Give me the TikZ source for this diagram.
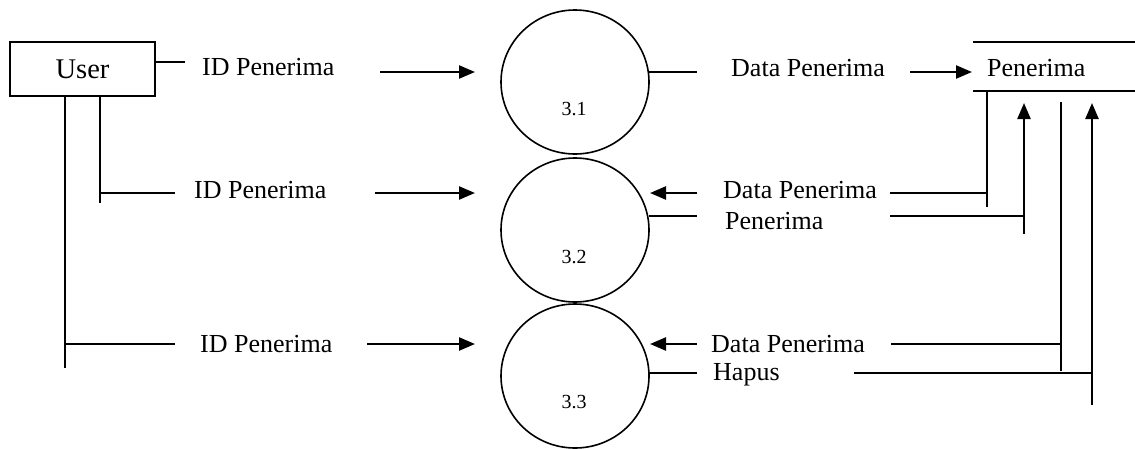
\documentclass[tikz,border=0pt]{standalone}
\usepackage{fontspec}
\setmainfont{Liberation Serif}
\usetikzlibrary{arrows.meta,shapes.geometric}
\begin{document}
\begin{tikzpicture}[x=1pt,y=-1pt,
  flow/.style={line width=1.6pt},
  arr/.style={line width=2.4pt,-{Triangle[length=16pt,width=13pt]}},
  proc/.style={draw,ellipse,line width=1.6pt,minimum width=148pt,minimum height=144pt,inner sep=0pt},
  lbl/.style={font=\fontsize{26}{28}\selectfont,inner sep=0pt,anchor=base west},
  num/.style={font=\fontsize{20}{22}\selectfont,inner sep=0pt,anchor=base},
  entity/.style={draw,line width=1.6pt,minimum width=145pt,minimum height=54pt,inner sep=0pt,font=\fontsize{28.5}{30}\selectfont},
]
\useasboundingbox (0,0) rectangle (1135,448);

% external entity
\node[entity] (user) at (82.5,69) {User};

% processes
\node[proc] (p1) at (575,82) {};
\node[proc] (p2) at (575,230) {};
\node[proc] (p3) at (575,376) {};
\node[num] (n1) at (574,115) {3.1};
\node[num] (n2) at (574,263) {3.2};
\node[num] (n3) at (574,408) {3.3};

% data store
\coordinate (dsTL) at (973,42);
\coordinate (dsTR) at (1135,42);
\coordinate (dsBL) at (973,91);
\coordinate (dsBR) at (1135,91);
\draw[flow] (dsTL) -- (dsTR);
\draw[flow] (dsBL) -- (dsBR);
\node[lbl] (store) at (987,76) {Penerima};

% ---- left flows: User -> processes
\coordinate (u1a) at (155,62);  \coordinate (u1b) at (185,62);
\coordinate (u1c) at (380,72);  \coordinate (u1d) at (475,72);
\draw[flow] (u1a) -- (u1b);
\node[lbl] (l1) at (202,75) {ID Penerima};
\draw[arr] (u1c) -- (u1d);

\coordinate (vA) at (65,96);    \coordinate (vAe) at (65,368);
\coordinate (vB) at (100,96);   \coordinate (vBe) at (100,203);
\draw[flow] (vA) -- (vAe);
\draw[flow] (vB) -- (vBe);

\coordinate (u2a) at (100,193); \coordinate (u2b) at (175,193);
\coordinate (u2c) at (375,193); \coordinate (u2d) at (475,193);
\draw[flow] (u2a) -- (u2b);
\node[lbl] (l2) at (194,198) {ID Penerima};
\draw[arr] (u2c) -- (u2d);

\coordinate (u3a) at (65,344);  \coordinate (u3b) at (175,344);
\coordinate (u3c) at (367,344); \coordinate (u3d) at (475,344);
\draw[flow] (u3a) -- (u3b);
\node[lbl] (l3) at (200,352) {ID Penerima};
\draw[arr] (u3c) -- (u3d);

% ---- right flows: processes <-> data store
% 3.1 -> store
\coordinate (r1a) at (649,72);  \coordinate (r1b) at (697,72);
\coordinate (r1c) at (910,72);  \coordinate (r1d) at (972,72);
\draw[flow] (r1a) -- (r1b);
\node[lbl] (r1) at (731,76) {Data Penerima};
\draw[arr] (r1c) -- (r1d);

% store -> 3.2
\coordinate (s2a) at (987,91);  \coordinate (s2b) at (987,207);
\coordinate (s2c) at (987,193); \coordinate (s2d) at (890,193);
\coordinate (s2e) at (697,193); \coordinate (s2f) at (650,193);
\draw[flow] (s2a) -- (s2b);
\draw[flow] (s2c) -- (s2d);
\node[lbl] (r2) at (723,198) {Data Penerima};
\draw[arr] (s2e) -- (s2f);

% 3.2 -> store
\coordinate (t2a) at (649,216); \coordinate (t2b) at (697,216);
\coordinate (t2c) at (890,216); \coordinate (t2d) at (1024,216);
\coordinate (t2e) at (1024,234); \coordinate (t2f) at (1024,103);
\draw[flow] (t2a) -- (t2b);
\node[lbl] (r2b) at (725,229) {Penerima};
\draw[flow] (t2c) -- (t2d);
\draw[arr] (t2e) -- (t2f);

% store -> 3.3
\coordinate (s3a) at (1061,102); \coordinate (s3b) at (1061,371);
\coordinate (s3c) at (1061,344); \coordinate (s3d) at (891,344);
\coordinate (s3e) at (697,344);  \coordinate (s3f) at (650,344);
\draw[flow] (s3a) -- (s3b);
\draw[flow] (s3c) -- (s3d);
\node[lbl] (r3) at (711,352) {Data Penerima};
\draw[arr] (s3e) -- (s3f);

% 3.3 -> store
\coordinate (t3a) at (649,373);  \coordinate (t3b) at (697,373);
\coordinate (t3c) at (854,373);  \coordinate (t3d) at (1092,373);
\coordinate (t3e) at (1092,405); \coordinate (t3f) at (1092,103);
\draw[flow] (t3a) -- (t3b);
\node[lbl] (r3b) at (713,380) {Hapus};
\draw[flow] (t3c) -- (t3d);
\draw[arr] (t3e) -- (t3f);
\end{tikzpicture}
\end{document}
